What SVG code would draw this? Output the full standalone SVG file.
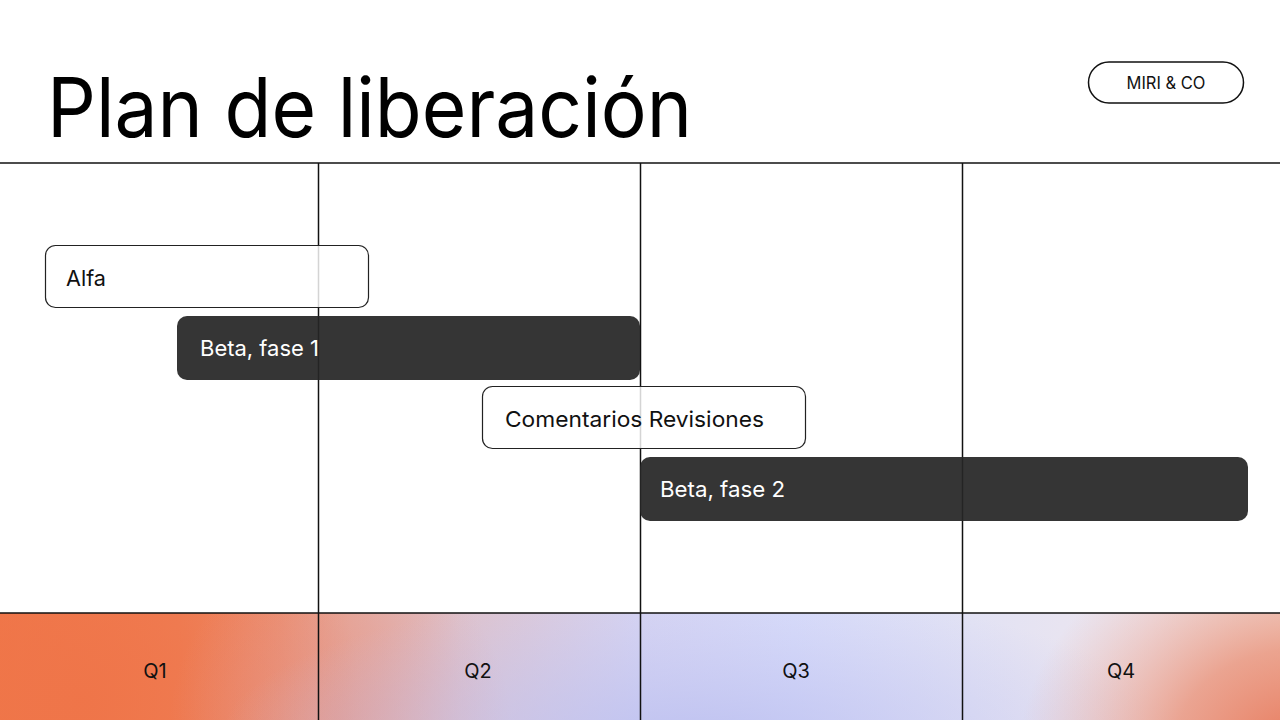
<svg xmlns="http://www.w3.org/2000/svg" width="1280" height="720" viewBox="0 0 1280 720">
  <defs>
    <linearGradient id="base" x1="0" y1="0" x2="1" y2="0">
      <stop offset="0" stop-color="#F0784A"/>
      <stop offset="0.14" stop-color="#EF8058"/>
      <stop offset="0.22" stop-color="#EC9478"/>
      <stop offset="0.27" stop-color="#E8A898"/>
      <stop offset="0.36" stop-color="#DEC2CC"/>
      <stop offset="0.5" stop-color="#D6D4F2"/>
      <stop offset="0.62" stop-color="#D8DCFA"/>
      <stop offset="0.76" stop-color="#E2E2F4"/>
      <stop offset="0.9" stop-color="#EEE6EE"/>
      <stop offset="1" stop-color="#F2E4E0"/>
    </linearGradient>
    <radialGradient id="orangeBR" cx="1300" cy="750" r="280" gradientUnits="userSpaceOnUse" gradientTransform="translate(1300 750) scale(1 0.8) translate(-1300 -750)">
      <stop offset="0" stop-color="#E8785A" stop-opacity="1"/>
      <stop offset="0.45" stop-color="#E98E74" stop-opacity="0.75"/>
      <stop offset="1" stop-color="#EBA898" stop-opacity="0"/>
    </radialGradient>
    <radialGradient id="blueBottom" cx="700" cy="740" r="300" gradientUnits="userSpaceOnUse" gradientTransform="translate(700 740) scale(1.6 0.5) translate(-700 -740)">
      <stop offset="0" stop-color="#BCC0F0" stop-opacity="0.9"/>
      <stop offset="1" stop-color="#C4C6F2" stop-opacity="0"/>
    </radialGradient>
    <radialGradient id="pinkQ2" cx="340" cy="720" r="170" gradientUnits="userSpaceOnUse">
      <stop offset="0" stop-color="#E0948C" stop-opacity="0.65"/>
      <stop offset="1" stop-color="#E09A98" stop-opacity="0"/>
    </radialGradient>
    <radialGradient id="orangeQ1" cx="80" cy="700" r="280" gradientUnits="userSpaceOnUse">
      <stop offset="0" stop-color="#EF7448" stop-opacity="0.9"/>
      <stop offset="1" stop-color="#EF7448" stop-opacity="0"/>
    </radialGradient>
    <style>
      .grid { stroke: #111; stroke-width: 1.5; fill: none; }
      .bar-light { fill: #ffffff; fill-opacity: 0.82; stroke: #222; stroke-width: 1.2; }
      .bar-dark { fill: #262626; fill-opacity: 0.93; }
      .lbl { font-family: Inter, "Liberation Sans", sans-serif; font-size: 22px; }
      .lbl-light { fill: #111; }
      .lbl-dark { fill: #ffffff; }
      .q { font-family: Inter, "Liberation Sans", sans-serif; font-size: 20px; fill: #111; text-anchor: middle; }
    </style>
  </defs>

  <rect width="1280" height="720" fill="#ffffff"/>

  <g id="band">
    <rect x="0" y="613" width="1280" height="107" fill="url(#base)"/>
    <rect x="0" y="613" width="1280" height="107" fill="url(#orangeQ1)"/>
    <rect x="0" y="613" width="1280" height="107" fill="url(#pinkQ2)"/>
    <rect x="0" y="613" width="1280" height="107" fill="url(#blueBottom)"/>
    <rect x="0" y="613" width="1280" height="107" fill="url(#orangeBR)"/>
  </g>

  <g id="title">
    <text x="47" y="137" font-family="Inter, 'Liberation Sans', sans-serif" font-size="82" fill="#000" textLength="645" lengthAdjust="spacingAndGlyphs">Plan de liberación</text>
  </g>

  <g id="badge">
    <rect x="1088.5" y="62" width="155" height="41" rx="20.5" fill="#fff" stroke="#111" stroke-width="1.5"/>
    <text x="1166" y="89" font-family="Inter, 'Liberation Sans', sans-serif" font-size="17" fill="#111" text-anchor="middle" textLength="79" lengthAdjust="spacingAndGlyphs">MIRI &amp; CO</text>
  </g>

  <g id="connectors">
    <line class="grid" x1="0" y1="163" x2="1280" y2="163"/>
    <line class="grid" x1="0" y1="613" x2="1280" y2="613"/>
    <line class="grid" x1="318.5" y1="163" x2="318.5" y2="720"/>
    <line class="grid" x1="640.5" y1="163" x2="640.5" y2="720"/>
    <line class="grid" x1="962.5" y1="163" x2="962.5" y2="720"/>
  </g>

  <g id="alfa">
    <rect class="bar-light" x="45.5" y="245.5" width="323" height="62" rx="10"/>
    <text class="lbl lbl-light" x="66" y="286" textLength="40" lengthAdjust="spacingAndGlyphs">Alfa</text>
  </g>

  <g id="beta1">
    <rect class="bar-dark" x="177" y="316" width="463" height="64" rx="10"/>
    <text class="lbl lbl-dark" x="200" y="356" textLength="119" lengthAdjust="spacingAndGlyphs">Beta, fase 1</text>
  </g>

  <g id="comentarios">
    <rect class="bar-light" x="482.5" y="386.5" width="323" height="62" rx="10"/>
    <text class="lbl lbl-light" x="505" y="426.5" textLength="259" lengthAdjust="spacingAndGlyphs">Comentarios Revisiones</text>
  </g>

  <g id="beta2">
    <rect class="bar-dark" x="640" y="457" width="608" height="64" rx="10"/>
    <text class="lbl lbl-dark" x="660" y="497" textLength="125" lengthAdjust="spacingAndGlyphs">Beta, fase 2</text>
  </g>

  <g id="quarters">
    <text class="q" x="155" y="678">Q1</text>
    <text class="q" x="478" y="678">Q2</text>
    <text class="q" x="796" y="678">Q3</text>
    <text class="q" x="1121" y="678">Q4</text>
  </g>
</svg>
